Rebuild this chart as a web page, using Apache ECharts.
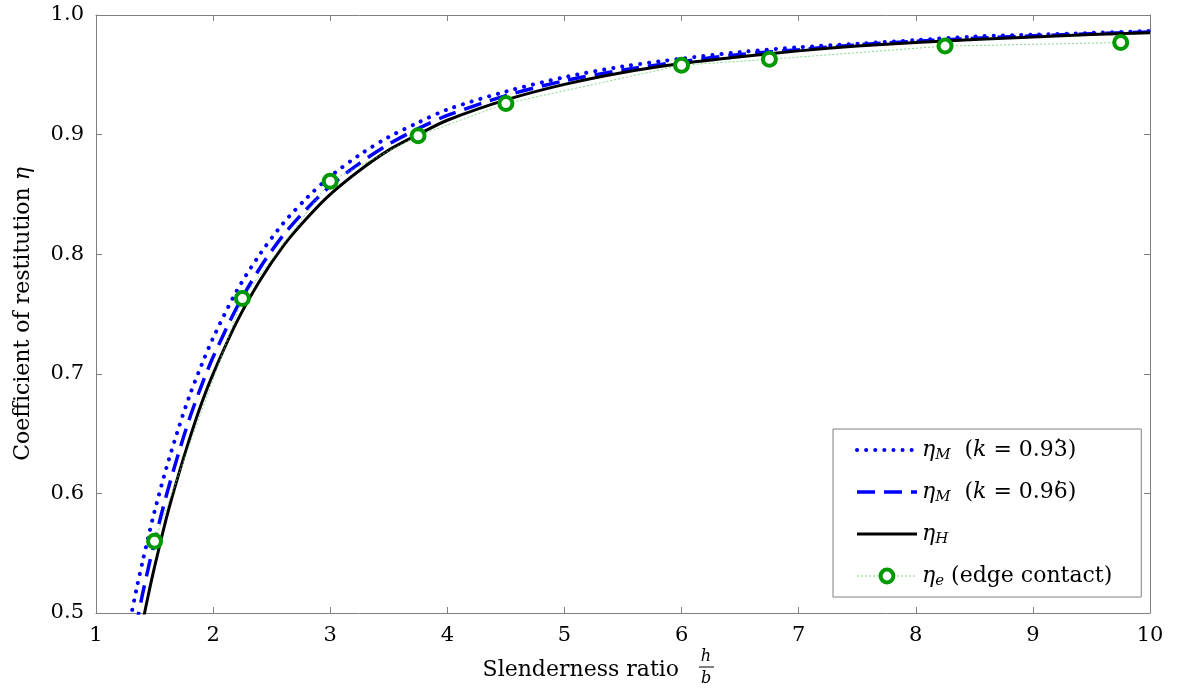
<!DOCTYPE html>
<html>
<head>
<meta charset="utf-8">
<script src="https://cdn.jsdelivr.net/npm/echarts@6/dist/echarts.min.js"></script>
<style>
html,body{margin:0;padding:0;background:#fff;}
#c{width:1178px;height:692px;}
</style>
</head>
<body>
<div id="c"></div>
<script>
// slenderness ratio sample positions for the curves
const xs = [1.25,1.3,1.35,1.4,1.45,1.5,1.6,1.7,1.8,1.9,2.0,2.2,2.4,2.6,2.8,3.0,3.25,3.5,3.75,4,4.5,5,5.5,6,6.5,7,7.5,8,8.5,9,9.5,10];
// eta_M (k = 0.93.) dotted
const etaM1 = [0.473,0.498,0.522,0.544,0.565,0.585,0.621,0.653,0.682,0.707,0.730,0.769,0.800,0.826,0.847,0.865,0.883,0.898,0.910,0.921,0.936,0.948,0.957,0.9635,0.969,0.973,0.976,0.979,0.982,0.9835,0.985,0.9866];
// eta_M (k = 0.96.) dashed
const etaM2 = [0.442,0.4685,0.493,0.517,0.539,0.560,0.598,0.632,0.663,0.690,0.714,0.755,0.7885,0.816,0.838,0.857,0.876,0.892,0.905,0.916,0.9326,0.945,0.954,0.961,0.967,0.971,0.975,0.978,0.9805,0.9826,0.9843,0.9858];
// eta_H solid
const etaH = [0.415,0.442,0.4685,0.493,0.5165,0.5385,0.579,0.614,0.646,0.675,0.700,0.743,0.778,0.807,0.830,0.850,0.870,0.887,0.900,0.912,0.929,0.942,0.952,0.9595,0.965,0.970,0.974,0.977,0.9795,0.9817,0.9836,0.9851];
// eta_e edge contact points
const xe = [1.5,2.25,3.0,3.75,4.5,6.0,6.75,8.25,9.75];
const etaE = [0.560,0.763,0.861,0.899,0.926,0.958,0.963,0.974,0.977];

const legendLabels = {
  'etaM1': '{i|η}{s|M}  ({i|k} = 0.93)',
  'etaM2': '{i|η}{s|M}  ({i|k} = 0.96)',
  'etaH': '{i|η}{s|H}',
  'etaE': '{i|η}{s|e} (edge contact)'
};

const FONT = 'DejaVu Serif';
const zip = (a, b) => a.map((v, i) => [v, b[i]]);
const frame = '#808080';

const styleDotted = {color: '#0000ff', width: 4, type: [0.1, 9], cap: 'round'};
const styleDashed = {color: '#0000ff', width: 3.5, type: [18, 9], cap: 'butt'};
const styleSolid = {color: '#000', width: 3, type: 'solid'};
const styleEdge = {color: '#66cc66', width: 0.8, type: [2, 2]};
const markEdge = {color: '#fff', borderColor: '#009900', borderWidth: 4};

// legend layout
const LEG_LEFT = 833, LEG_TOP = 429, PAD = [7, 29, 7, 22], ICON_W = 60, ROW_H = 28, ROW_GAP = 14;

// position of the repeating-decimal dot over the last digit in the two k labels
const mctx = document.createElement('canvas').getContext('2d');
function w(font, s) { mctx.font = font; return mctx.measureText(s).width; }
const textX0 = LEG_LEFT + PAD[3] + ICON_W + 5;
const prefixW = w('italic 22px "DejaVu Serif"', 'η') + w('italic 15px "DejaVu Serif"', 'M') +
  w('22px "DejaVu Serif"', '  (') + w('italic 22px "DejaVu Serif"', 'k') + w('22px "DejaVu Serif"', ' = 0.9');
const dotX = textX0 + prefixW + w('22px "DejaVu Serif"', '3') / 2;
const rowY = i => LEG_TOP + PAD[0] + ROW_H / 2 + i * (ROW_H + ROW_GAP);

const chart = echarts.init(document.getElementById('c'), null, {renderer: 'canvas'});
const axisCommon = {
  type: 'value',
  axisLine: {show: true, lineStyle: {color: frame, width: 1}},
  axisTick: {show: true, inside: true, length: 6, lineStyle: {color: frame}},
  splitLine: {show: false}
};
chart.setOption({
  animation: false,
  backgroundColor: '#fff',
  grid: {left: 96, right: 28, top: 15, bottom: 79, containLabel: false},
  xAxis: [
    Object.assign({}, axisCommon, {
      position: 'bottom', min: 1, max: 10, interval: 1,
      axisLabel: {color: '#000', fontFamily: FONT, fontSize: 21, margin: 12}
    }),
    Object.assign({}, axisCommon, {
      position: 'top', min: 1, max: 10, interval: 1, axisLabel: {show: false}
    })
  ],
  yAxis: [
    Object.assign({}, axisCommon, {
      position: 'left', min: 0.5, max: 1.0, interval: 0.1,
      axisLabel: {color: '#000', fontFamily: FONT, fontSize: 21, margin: 12,
        formatter: v => v.toFixed(1)},
      name: 'Coefficient of restitution {i|η}',
      nameLocation: 'middle', nameRotate: 90, nameGap: 62,
      nameTextStyle: {color: '#000', fontFamily: FONT, fontSize: 22,
        rich: {i: {fontFamily: FONT, fontSize: 22, fontStyle: 'italic', color: '#000'}}}
    }),
    Object.assign({}, axisCommon, {
      position: 'right', min: 0.5, max: 1.0, interval: 0.1, axisLabel: {show: false}
    })
  ],
  legend: {
    orient: 'vertical', left: LEG_LEFT, top: LEG_TOP,
    padding: PAD,
    itemGap: ROW_GAP, itemWidth: ICON_W, itemHeight: 16,
    backgroundColor: '#fff', borderColor: frame, borderWidth: 1, borderRadius: 0,
    data: [
      {name: 'etaM1', itemStyle: {opacity: 0}, lineStyle: styleDotted},
      {name: 'etaM2', itemStyle: {opacity: 0}, lineStyle: styleDashed},
      {name: 'etaH', itemStyle: {opacity: 0}, lineStyle: styleSolid},
      {name: 'etaE', itemStyle: markEdge, lineStyle: styleEdge}
    ],
    formatter: n => legendLabels[n],
    textStyle: {
      color: '#000', fontFamily: FONT, fontSize: 22, lineHeight: ROW_H,
      rich: {
        i: {fontFamily: FONT, fontSize: 22, fontStyle: 'italic', color: '#000'},
        s: {fontFamily: FONT, fontSize: 15, lineHeight: 15, fontStyle: 'italic', color: '#000', padding: [10, 0, 0, 0]}
      }
    }
  },
  graphic: [
    {type: 'text', z: 100, style: {text: '\u02D9', x: dotX, y: rowY(0), align: 'center', verticalAlign: 'middle',
      font: '22px "DejaVu Serif"', fill: '#000'}},
    {type: 'text', z: 100, style: {text: '\u02D9', x: dotX, y: rowY(1), align: 'center', verticalAlign: 'middle',
      font: '22px "DejaVu Serif"', fill: '#000'}},
    {type: 'text', style: {text: 'Slenderness ratio', x: 679, y: 670, align: 'right', verticalAlign: 'middle',
      font: '22px "DejaVu Serif"', fill: '#000'}},
    {type: 'text', style: {text: 'h', x: 706, y: 657, align: 'center', verticalAlign: 'middle',
      font: 'italic 16px "DejaVu Serif"', fill: '#000'}},
    {type: 'line', shape: {x1: 699, y1: 667, x2: 714, y2: 667}, style: {stroke: '#000', lineWidth: 1}},
    {type: 'text', style: {text: 'b', x: 706, y: 679, align: 'center', verticalAlign: 'middle',
      font: 'italic 16px "DejaVu Serif"', fill: '#000'}}
  ],
  series: [
    {name: 'etaM1', type: 'line', data: zip(xs, etaM1), smooth: 0.3, symbol: 'none', clip: true,
      lineStyle: styleDotted, itemStyle: {color: '#0000ff'}, z: 2},
    {name: 'etaM2', type: 'line', data: zip(xs, etaM2), smooth: 0.3, symbol: 'none', clip: true,
      lineStyle: styleDashed, itemStyle: {color: '#0000ff'}, z: 3},
    {name: 'etaH', type: 'line', data: zip(xs, etaH), smooth: 0.3, symbol: 'none', clip: true,
      lineStyle: styleSolid, itemStyle: {color: '#000'}, z: 4},
    {name: 'etaE', type: 'line', data: zip(xe, etaE), smooth: false, symbol: 'circle', symbolSize: 13, clip: true,
      showAllSymbol: true,
      lineStyle: styleEdge,
      itemStyle: markEdge, z: 5}
  ]
});
</script>
</body>
</html>
